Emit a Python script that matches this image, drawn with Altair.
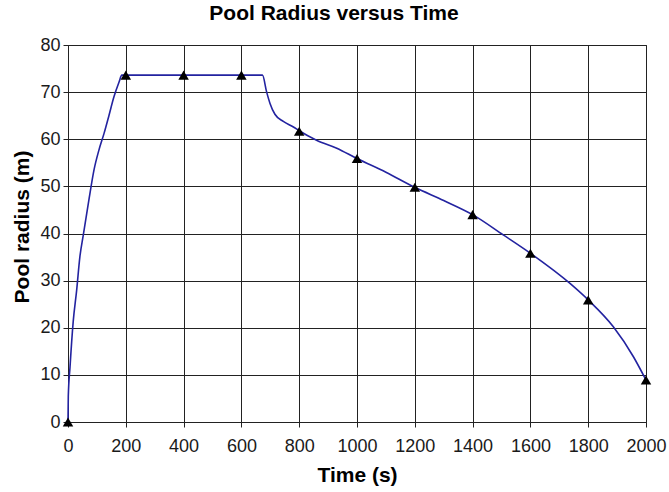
import altair as alt
import pandas as pd

# curve samples
line_t = [0, 1, 7, 18, 30, 41, 53, 73, 90, 107, 125, 142, 159, 177, 186,
          400, 600, 673, 687, 699, 716, 745, 780, 800, 860, 930, 1000,
          1100, 1200, 1300, 1400, 1506, 1600, 1737, 1800, 1887, 1956, 2000]
line_r = [0, 5.4, 11.7, 21.3, 28, 35, 39.7, 47.4, 53.5, 57.7, 61.3, 65.1, 69, 72.2, 73.6,
          73.6, 73.6, 73.6, 70.1, 67.6, 65.3, 63.8, 62.6, 61.8, 59.8, 58.1, 55.9,
          53, 49.8, 47, 44, 39.7, 35.8, 29.4, 25.9, 20.2, 13.9, 8.9]

# triangle markers
mark_t = [0, 200, 400, 600, 800, 1000, 1200, 1400, 1600, 1800, 2000]
mark_r = [0, 73.6, 73.6, 73.6, 61.7, 55.9, 49.8, 44, 35.8, 25.9, 8.9]

x_ticks = list(range(0, 2001, 200))
y_ticks = list(range(0, 81, 10))

df_line = pd.DataFrame({"t": line_t, "r": line_r})
df_mark = pd.DataFrame({"t": mark_t, "r": mark_r})

FONT = "Liberation Sans"

x_enc = alt.X("t:Q", scale=alt.Scale(domain=[0, 2000], nice=False),
              axis=alt.Axis(title="Time (s)", values=x_ticks, grid=True, format="d",
                            labelOverlap=False, labelFlush=False))
y_enc = alt.Y("r:Q", scale=alt.Scale(domain=[0, 80], nice=False),
              axis=alt.Axis(title="Pool radius (m)", values=y_ticks, grid=True, format="d",
                            labelOverlap=False, titleY=181.5))

line = alt.Chart(df_line).mark_line(color="#2323a0", strokeWidth=1.6, interpolate="monotone").encode(
    x=x_enc, y=y_enc)
pts = alt.Chart(df_mark).mark_point(shape="triangle-up", filled=True, color="black",
                                    size=110, opacity=1).encode(x="t:Q", y="r:Q")

chart = (line + pts).properties(
    width=578, height=377,
    title=alt.TitleParams("Pool Radius versus Time", fontSize=21, fontWeight="bold",
                          font=FONT, color="black", anchor="middle", offset=12, dx=-23),
    autosize=alt.AutoSizeParams(type="none"),
    padding={"left": 68, "top": 45, "right": 23, "bottom": 70},
).configure_view(stroke="#222222", strokeWidth=1).configure_axis(
    labelFont=FONT, labelFontSize=18, labelColor="#1a1a1a",
    titleFont=FONT, titleFontSize=21, titleFontWeight="bold", titleColor="black",
    gridColor="#222222", gridOpacity=1, gridWidth=1,
    domainColor="#222222", domainWidth=1,
    tickColor="#222222", tickSize=5, tickWidth=1,
).configure_axisX(labelPadding=10, titlePadding=9).configure_axisY(labelPadding=3, titlePadding=7)

chart.save("out.html", embed_options={"renderer": "svg", "actions": False})
